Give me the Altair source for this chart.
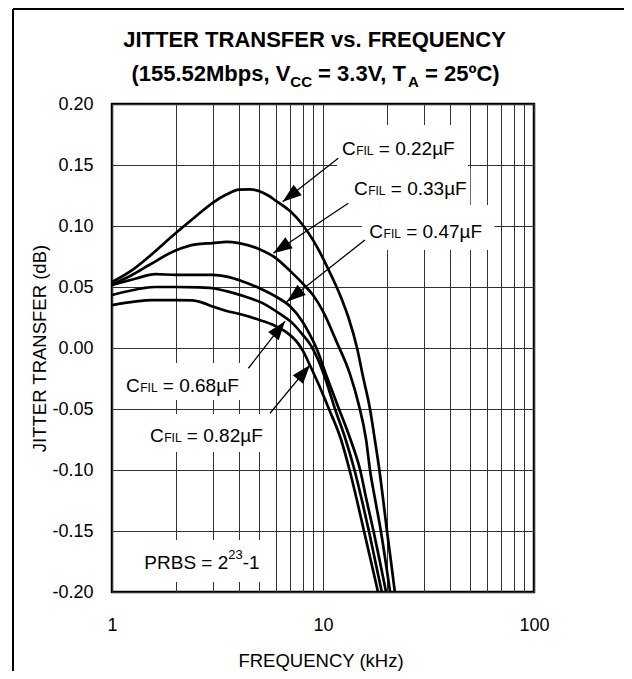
import math
import altair as alt
import pandas as pd

FONT = "Liberation Sans"
W, H = 422, 488

# ---------------- curve data (frequency kHz, jitter transfer dB) ----------------
freq_022 = [1, 1.25, 1.5, 2, 2.5, 3, 3.5, 4, 4.5, 5, 5.5, 6, 7, 8, 9, 9.7, 10.5, 11.6, 12.4, 13.2, 14.5, 15.5,
            16.7, 17.6, 18.5, 19.3, 20.1, 21, 21.9]
jt_022 = [0.054, 0.064, 0.075, 0.094, 0.108, 0.119, 0.126, 0.1298, 0.130, 0.1285, 0.125, 0.1205, 0.112, 0.101,
          0.088, 0.078, 0.066, 0.050, 0.038, 0.025, 0.000, -0.024, -0.050, -0.075, -0.100, -0.125, -0.150,
          -0.175, -0.200]

freq_033 = [1, 1.25, 1.5, 2, 2.5, 3, 3.5, 4, 5, 6, 7, 8, 9, 10, 11.6, 13.4, 14.7, 16, 16.7, 17.7, 18.8, 19.8, 20.8]
jt_033 = [0.052, 0.060, 0.068, 0.080, 0.085, 0.086, 0.087, 0.086, 0.081, 0.0735, 0.063, 0.053, 0.043, 0.030,
          0.005, -0.021, -0.045, -0.075, -0.100, -0.125, -0.150, -0.175, -0.200]

freq_047 = [1, 1.3, 1.6, 2, 2.5, 3, 3.5, 4.2, 5, 6, 7, 8, 8.6, 9.3, 10.5, 11.9, 12.7, 13.5, 15.0, 16.1, 17.35,
            18.6, 19.9]
jt_047 = [0.0516, 0.057, 0.0605, 0.060, 0.060, 0.060, 0.0585, 0.0543, 0.049, 0.042, 0.034, 0.0215, 0.012, 0.000,
          -0.025, -0.050, -0.0625, -0.075, -0.100, -0.125, -0.150, -0.175, -0.200]

freq_068 = [1, 1.4, 1.6, 2, 2.6, 3, 3.6, 4.3, 5.2, 6.2, 7.2, 8, 8.8, 9.5, 10.3, 11.4, 12.8, 14.1, 15.3, 16.5,
            17.7, 19.0]
jt_068 = [0.0434, 0.049, 0.050, 0.050, 0.0497, 0.049, 0.046, 0.042, 0.0366, 0.0284, 0.020, 0.011, 0.0015,
          -0.010, -0.026, -0.050, -0.075, -0.100, -0.125, -0.150, -0.175, -0.200]

freq_082 = [1, 1.57, 2, 2.4, 2.7, 3.0, 3.4, 4.2, 5, 5.8, 6.7, 7.6, 8.07, 8.66, 9.6, 10.67, 12.17, 13.36, 14.49,
            15.64, 16.89, 18.23]
jt_082 = [0.0352, 0.0393, 0.0393, 0.0390, 0.037, 0.034, 0.031, 0.027, 0.023, 0.019, 0.013, 0.004, -0.003,
          -0.0139, -0.031, -0.050, -0.075, -0.100, -0.125, -0.150, -0.175, -0.200]

series = [("0.22", freq_022, jt_022), ("0.33", freq_033, jt_033), ("0.47", freq_047, jt_047),
          ("0.68", freq_068, jt_068), ("0.82", freq_082, jt_082)]

# ---------------- axes ----------------
x_grid = [1, 2, 3, 4, 5, 6, 7, 8, 9, 10, 20, 30, 40, 50, 60, 70, 80, 90, 100]
y_ticks = [-0.20, -0.15, -0.10, -0.05, 0.0, 0.05, 0.10, 0.15, 0.20]

# ---------------- annotations (data coordinates) ----------------
label_rest = ["= 0.22\u00b5F", "= 0.33\u00b5F", "= 0.47\u00b5F", "= 0.68\u00b5F", "= 0.82\u00b5F"]
label_f = [12.3, 14.02, 16.58, 1.165, 1.514]
label_v = [0.1582, 0.1254, 0.0902, -0.0358, -0.0768]
arrow_f0 = [11.81, 13.18, 15.8, 4.43, 5.61]
arrow_v0 = [0.1555, 0.1186, 0.0885, -0.0166, -0.0535]
arrow_f1 = [6.44, 5.81, 6.73, 6.61, 8.68]
arrow_v1 = [0.1199, 0.0776, 0.038, 0.022, -0.0139]
box_f0 = [11.66, 13.4, 15.3, 1.091, 1.434, 1.328]
box_f1 = [48.6, 49.9, 65.0, 4.41, 5.74, 5.13]
box_v0 = [0.1828, 0.1475, 0.1172, -0.0123, -0.0541, -0.1574]
box_v1 = [0.1475, 0.1172, 0.0803, -0.0426, -0.0852, -0.1918]
prbs_f = [1.423]
prbs_v = [-0.1814]

# ---------------- text metrics (Arial-compatible, per em) ----------------
REG = {' ': .278, '(': .333, ')': .333, '-': .333, '.': .278, ',': .278, '=': .584, 'C': .722,
       'F': .611, 'I': .278, 'L': .556, 'P': .667, 'R': .722, 'B': .667, 'S': .667, '\u00b5': .576}
BOLD = {' ': .278, '(': .333, ')': .333, '.': .278, ',': .278, '=': .584, 'C': .722, 'V': .667,
        'T': .611, 'A': .722, 'M': .833, 'b': .611, 'p': .611, 's': .556, '\u00ba': .365, 'J': .556,
        'I': .278, 'E': .667, 'R': .722, 'N': .722, 'S': .667, 'F': .611, 'v': .556, 'Q': .778, 'U': .722,
        'Y': .667}
for d in "0123456789":
    REG[d] = .556
    BOLD[d] = .556


def tw(s, size, table):
    return sum(table.get(c, .556) for c in s) * size


def px(f):
    return W * math.log10(f) / 2


def py(v):
    return H * (0.2 - v) / 0.4


def f_of(x):
    return 10 ** (2 * x / W)


def v_of(y):
    return 0.2 - 0.4 * y / H


# ---------------- frames ----------------
curves = pd.concat([pd.DataFrame({"f": fr, "v": jt, "cap": name}) for name, fr, jt in series])

xs = alt.Scale(type="log", domain=[1, 100], nice=False)
ys = alt.Scale(domain=[-0.2, 0.2], nice=False, zero=False)

x_axis = alt.Axis(values=x_grid, grid=True, gridColor="#333333", gridWidth=1, ticks=False,
                  domain=False, labelExpr="(datum.value == 1 || datum.value == 10 || datum.value == 100) ? datum.label : ''",
                  format="d", labelFlush=False, labelOverlap=False, labelFont=FONT, labelFontSize=18,
                  labelColor="black", labelPadding=24, title="FREQUENCY (kHz)", titleFont=FONT,
                  titleFontSize=18.5, titleFontWeight="normal", titleColor="black", titleBaseline="alphabetic",
                  titleAlign="center", titleX=208.5, titleY=74)
y_axis = alt.Axis(values=y_ticks, grid=True, gridColor="#333333", gridWidth=1, ticks=False,
                  domain=False, labelExpr="(datum.value < 0 ? '-' : '') + format(abs(datum.value), '.2f')",
                  labelFlush=False, labelOverlap=False, labelFont=FONT, labelFontSize=18, labelColor="black",
                  labelPadding=19, title="JITTER TRANSFER (dB)", titleFont=FONT, titleFontSize=18.5,
                  titleFontWeight="normal", titleColor="black", titleBaseline="alphabetic", titleAlign="center",
                  titleAngle=270, titleX=-67, titleY=244)


def X(field):
    return alt.X(field, scale=xs, axis=x_axis)


def Y(field):
    return alt.Y(field, scale=ys, axis=y_axis)


curve_layer = alt.Chart(curves).mark_line(color="black", strokeWidth=2.7, interpolate="monotone", clip=True).encode(
    x=X("f:Q"), y=Y("v:Q"), detail="cap:N")

boxes = pd.DataFrame({"f0": box_f0, "f1": box_f1, "v0": box_v0, "v1": box_v1})
box_layer = alt.Chart(boxes).mark_rect(color="white").encode(x=X("f0:Q"), x2="f1:Q", y=Y("v0:Q"), y2="v1:Q")

angles = []
for a, b, c, d in zip(arrow_f0, arrow_v0, arrow_f1, arrow_v1):
    ddx = px(c) - px(a)
    ddy = py(d) - py(b)
    angles.append(math.degrees(math.atan2(ddx, -ddy)) % 360)
arrows = pd.DataFrame({"f0": arrow_f0, "v0": arrow_v0, "f1": arrow_f1, "v1": arrow_v1, "ang": angles})

arrow_lines = alt.Chart(arrows).mark_rule(color="black", strokeWidth=1.3).encode(
    x=X("f0:Q"), x2="f1:Q", y=Y("v0:Q"), y2="v1:Q")
arrow_heads = alt.Chart(arrows).mark_point(shape="M0,0L0.7,2L-0.7,2Z", filled=True, color="black",
                                           opacity=1, size=360, strokeWidth=0).encode(
    x=X("f1:Q"), y=Y("v1:Q"), angle=alt.Angle("ang:Q", scale=None))

labels = pd.DataFrame({"f": label_f, "v": label_v, "c": "C", "sub": "FIL", "rest": label_rest})
LBL = 19
SUB = 12
dx1 = tw("C", LBL, REG) + 0.5
dx2 = dx1 + tw("FIL", SUB, REG) + tw(" ", LBL, REG)
lab_base = alt.Chart(labels)
lab_c = lab_base.mark_text(align="left", baseline="alphabetic", font=FONT, fontSize=LBL, color="black").encode(
    x=X("f:Q"), y=Y("v:Q"), text="c:N")
lab_sub = lab_base.mark_text(align="left", baseline="alphabetic", font=FONT, fontSize=SUB, color="black",
                             dx=dx1).encode(x=X("f:Q"), y=Y("v:Q"), text="sub:N")
lab_rest = lab_base.mark_text(align="left", baseline="alphabetic", font=FONT, fontSize=LBL, color="black",
                              dx=dx2).encode(x=X("f:Q"), y=Y("v:Q"), text="rest:N")

prbs = pd.DataFrame({"f": prbs_f, "v": prbs_v, "a": ["PRBS = 2"], "b": ["23"], "c": ["-1"]})
SUP = 13
p1 = tw("PRBS = 2", LBL, REG)
p2 = p1 + tw("23", SUP, REG)
pr_base = alt.Chart(prbs)
pr_a = pr_base.mark_text(align="left", baseline="alphabetic", font=FONT, fontSize=LBL, color="black").encode(
    x=X("f:Q"), y=Y("v:Q"), text="a:N")
pr_b = pr_base.mark_text(align="left", baseline="alphabetic", font=FONT, fontSize=SUP, color="black",
                         dx=p1, dy=-10).encode(x=X("f:Q"), y=Y("v:Q"), text="b:N")
pr_c = pr_base.mark_text(align="left", baseline="alphabetic", font=FONT, fontSize=LBL, color="black",
                         dx=p2).encode(x=X("f:Q"), y=Y("v:Q"), text="c:N")

# ---------------- title (two lines with subscripts), placed above the plot ----------------
T1 = "JITTER TRANSFER vs. FREQUENCY"
TS, TSUB = 22, 15
rows = [{"t": T1, "x": 202.5 - tw(T1, TS, BOLD) / 2, "y": -57, "s": TS}]
# (text, size, baseline shift, leading space?)
segs = [("(155.52Mbps, V", TS, 0, False), ("CC", TSUB, 6, False), ("= 3.3V, T", TS, 0, True),
        ("A", TSUB, 6, False), ("= 25\u00baC)", TS, 0, True)]
total = sum(tw(t, s, BOLD) + (tw(" ", s, BOLD) if sp else 0) for t, s, _, sp in segs)
cur = 203.5 - total / 2
for t, s, dy, sp in segs:
    if sp:
        cur += tw(" ", s, BOLD)
    rows.append({"t": t, "x": cur, "y": -23 + dy, "s": s})
    cur += tw(t, s, BOLD)
title_df = pd.DataFrame(rows)
title_df["f"] = [f_of(x) for x in title_df["x"]]
title_df["v"] = [v_of(y) for y in title_df["y"]]
title_big = alt.Chart(title_df[title_df["s"] == TS]).mark_text(
    align="left", baseline="alphabetic", font=FONT, fontWeight="bold", fontSize=TS, color="black").encode(
    x=X("f:Q"), y=Y("v:Q"), text="t:N")
title_small = alt.Chart(title_df[title_df["s"] == TSUB]).mark_text(
    align="left", baseline="alphabetic", font=FONT, fontWeight="bold", fontSize=TSUB, color="black").encode(
    x=X("f:Q"), y=Y("v:Q"), text="t:N")

one = pd.DataFrame({"k": [0]})
frame_left = alt.Chart(one).mark_rule(color="black", strokeWidth=2).encode(
    x=alt.value(-99), y=alt.value(-95), y2=alt.value(H + 80))
frame_top = alt.Chart(one).mark_rule(color="black", strokeWidth=2).encode(
    x=alt.value(-99), x2=alt.value(W + 90), y=alt.value(-95))

chart = alt.layer(curve_layer, box_layer, arrow_lines, arrow_heads, lab_c, lab_sub, lab_rest,
                  pr_a, pr_b, pr_c, title_big, title_small, frame_left, frame_top).properties(
    width=W, height=H,
    autosize=alt.AutoSizeParams(type="none"),
    padding={"left": 104, "top": 96, "right": 90, "bottom": 79},
    background="white",
).configure_view(stroke="black", strokeWidth=2.5)

chart.save("out.html", embed_options={"renderer": "svg", "actions": False})
